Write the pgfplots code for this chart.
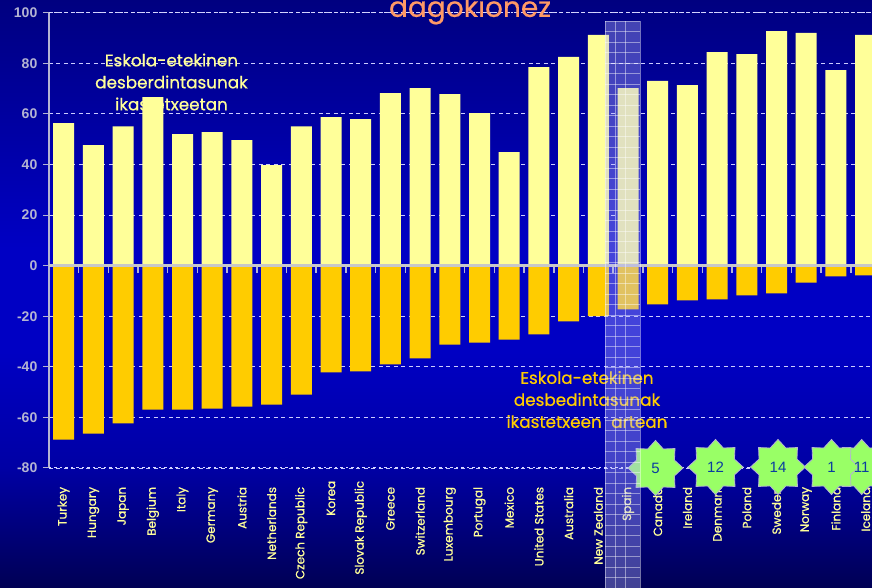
\documentclass[border=0pt]{standalone}
\usepackage{pgfplots}
\pgfplotsset{compat=1.18}
\usepackage{fontspec}
\setmainfont{Poppins}[FakeBold=0.6,BoldFont={Poppins}]
\newfontfamily\tickfont{Liberation Sans}
\usetikzlibrary{shapes.geometric}
\definecolor{barY}{HTML}{FFFF99}
\definecolor{barO}{HTML}{FFCC00}
\definecolor{axgrey}{HTML}{B4B4D2}
\definecolor{zero}{HTML}{C8C8C8}
\definecolor{titleO}{HTML}{FF9966}
\definecolor{starG}{HTML}{99FF66}
\definecolor{starT}{HTML}{0A3CA0}
\definecolor{bgA}{RGB}{0,0,84}
\definecolor{bgB}{RGB}{0,0,164}
\definecolor{bgC}{RGB}{0,0,196}
\definecolor{bgD}{RGB}{0,0,128}
\begin{document}
\begin{tikzpicture}[x=1pt,y=1pt]
\useasboundingbox (0,0) rectangle (872,588);
\clip (0,0) rectangle (872,588);
\fill[bottom color=bgA,top color=bgB] (0,-0.2) rectangle (872,120);
\fill[bottom color=bgB,top color=bgC] (0,119.8) rectangle (872,240);
\fill[bgC] (0,239.8) rectangle (872,340);
\fill[bottom color=bgC,top color=bgD] (0,339.8) rectangle (872,588.2);
\begin{axis}[
  at={(48.85pt,120pt)},anchor=south west,
  scale only axis,width=823.15pt,height=455.3pt,
  xmin=-0.5,xmax=27.215,ymin=-80,ymax=100,
  axis x line=none,
  axis y line*=left,
  axis line style={axgrey,line width=1.3pt,-},
  y axis line style={-},
  ytick={-80,-60,-40,-20,0,20,40,60,80,100},
  major tick style={axgrey,line width=1pt},
  tick align=outside,major tick length=6pt,
  yticklabel style={font=\fontsize{14}{14}\selectfont\tickfont\bfseries,text=axgrey,/pgf/number format/assume math mode=true,xshift=-2pt},
  ymajorgrids,
  grid style={white!80!blue,line width=0.8pt,dash pattern=on 4pt off 3.5pt},
]
\addplot[white!85!blue,line width=1.4pt,dash pattern=on 2.5pt off 3pt,forget plot] coordinates {(-0.5,100)(27.215,100)};
\addplot[white!85!blue,line width=1.4pt,dash pattern=on 2.5pt off 3pt,forget plot] coordinates {(-0.5,-80)(27.215,-80)};
\addplot[ybar,bar width=21pt,bar shift=0pt,fill=barY,draw=none] coordinates {
(0,56.3)(1,47.6)(2,55.1)(3,66.6)(4,52)(5,52.8)(6,49.6)(7,39.7)(8,55.1)(9,58.7)(10,57.9)(11,68.2)(12,70.2)(13,67.8)
(14,60.3)(15,44.9)(16,78.5)(17,82.5)(18,91.2)(19,70.2)(20,73)(21,71.4)(22,84.4)(23,83.6)(24,92.7)(25,92)(26,77.3)(27,91.2)};
\addplot[ybar,bar width=21pt,bar shift=0pt,fill=barO,draw=none] coordinates {
(0,-68.8)(1,-66.4)(2,-62.4)(3,-56.9)(4,-56.9)(5,-56.5)(6,-55.7)(7,-54.9)(8,-51)(9,-42.2)(10,-41.8)(11,-39)(12,-36.7)(13,-31.2)
(14,-30.4)(15,-29.2)(16,-27.2)(17,-22)(18,-20)(19,-17.3)(20,-15.3)(21,-13.7)(22,-13.3)(23,-11.8)(24,-11)(25,-6.7)(26,-4.2)(27,-3.8)};
\addplot[ycomb,axgrey,line width=1.5pt,no marks] coordinates {
(0.5,-3)(1.5,-3)(2.5,-3)(3.5,-3)(4.5,-3)(5.5,-3)(6.5,-3)(7.5,-3)(8.5,-3)(9.5,-3)(10.5,-3)(11.5,-3)(12.5,-3)(13.5,-3)
(14.5,-3)(15.5,-3)(16.5,-3)(17.5,-3)(18.5,-3)(19.5,-3)(20.5,-3)(21.5,-3)(22.5,-3)(23.5,-3)(24.5,-3)(25.5,-3)(26.5,-3)};
\addplot[zero,line width=2.4pt] coordinates {(-0.5,0)(27.215,0)};
\addplot[only marks,mark=none,
  nodes near coords={\pgfplotspointmeta},
  point meta=explicit symbolic,
  nodes near coords style={anchor=east,rotate=90,inner sep=0pt,text=barY,font=\fontsize{12}{12}\selectfont\bfseries,yshift=0pt,xshift=0pt},
  clip=false] table[meta=lab,col sep=comma] {
x,y,lab
0,-87.4,Turkey
1,-87.4,Hungary
2,-87.4,Japan
3,-87.4,Belgium
4,-87.4,Italy
5,-87.4,Germany
6,-87.4,Austria
7,-87.4,Netherlands
8,-87.4,Czech Republic
9,-85,Korea
10,-85,Slovak Republic
11,-87.4,Greece
12,-87.4,Switzerland
13,-87.4,Luxembourg
14,-87.4,Portugal
15,-87.4,Mexico
16,-87.4,United States
17,-87.4,Australia
18,-87.4,New Zealand
19,-87.4,Spain
20,-87.4,Canada
21,-87.4,Ireland
22,-87.4,Denmark
23,-87.4,Poland
24,-87.4,Sweden
25,-87.4,Norway
26,-87.4,Finland
27,-87.4,Iceland
};
\end{axis}
\node[text=titleO,font=\fontsize{28}{28}\selectfont] at (470,578) {dagokionez};
\node[text=barY,align=center,font=\fontsize{16.8}{22}\selectfont\bfseries,inner sep=0pt] at (171.5,506) {Eskola-etekinen\\desberdintasunak\\ikastetxeetan};
\node[text=barO,align=center,font=\fontsize{16.8}{22}\selectfont\bfseries,inner sep=0pt] at (587,188.5) {Eskola-etekinen\\desbedintasunak\\ikastetxeen\hspace{5pt} artean};
\foreach \sx/\sy in {655.5/120,715.5/121,778/121,861.7/121,831.5/121}{
  \node[star,star points=8,star point ratio=1.34,minimum size=55pt,inner sep=0pt,
        fill=starG,draw=axgrey,line width=0.8pt] at (\sx,\sy) {};
}
\foreach \sx/\sy/\t in {655.5/120/5,715.5/121/12,778/121/14,861.7/121/11,831.5/121/1}{
  \node[text=starT,font=\fontsize{15}{15}\selectfont\tickfont] at (\sx,\sy) {\t};
}
\fill[white!70!blue,fill opacity=0.38] (605,0) rectangle (640,567);
\begin{scope}[white,opacity=0.45,line width=0.8pt]
\foreach \lx in {605,615,625,640} {\draw (\lx,0)--(\lx,567);}
\foreach \ly in {0,10.5,...,567} {\draw (605,\ly)--(640,\ly);}
\end{scope}
\end{tikzpicture}
\end{document}
